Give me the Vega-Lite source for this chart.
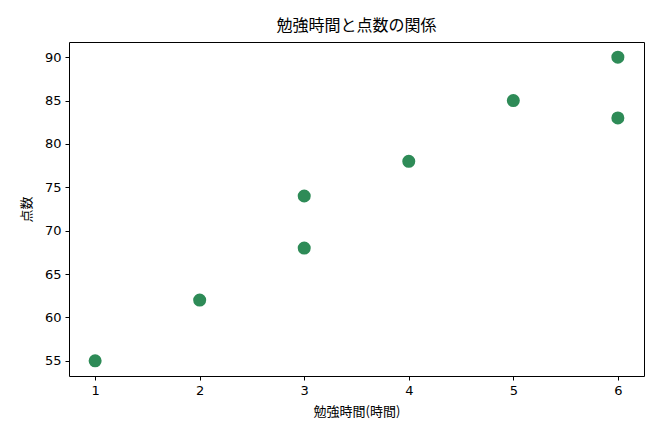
{
  "$schema": "https://vega.github.io/schema/vega-lite/v6.json",
  "width": 575,
  "height": 334,
  "autosize": {"type": "none"},
  "padding": {"left": 69, "top": 42, "right": 16, "bottom": 64},
  "background": "white",
  "title": {
    "text": "勉強時間と点数の関係",
    "font": "DejaVu Sans, Noto Sans CJK JP",
    "fontSize": 16,
    "fontWeight": "normal",
    "color": "black",
    "anchor": "middle",
    "offset": 8
  },
  "config": {
    "view": {"stroke": "black", "strokeWidth": 1},
    "axis": {
      "domain": false,
      "grid": false,
      "tickColor": "black",
      "tickSize": 4,
      "labelFont": "DejaVu Sans",
      "labelFontSize": 13,
      "labelColor": "black",
      "titleFont": "Noto Sans CJK JP",
      "titleFontSize": 13,
      "titleFontWeight": "normal",
      "titleColor": "black"
    }
  },
  "data": {
    "values": [
      {"hours": 1, "score": 55},
      {"hours": 2, "score": 62},
      {"hours": 3, "score": 68},
      {"hours": 3, "score": 74},
      {"hours": 4, "score": 78},
      {"hours": 5, "score": 85},
      {"hours": 6, "score": 83},
      {"hours": 6, "score": 90}
    ]
  },
  "mark": {"type": "circle", "size": 170, "color": "#2E8B57", "opacity": 1},
  "encoding": {
    "x": {
      "field": "hours",
      "type": "quantitative",
      "title": "勉強時間(時間)",
      "scale": {"domain": [0.75, 6.25], "nice": false, "zero": false},
      "axis": {"values": [1, 2, 3, 4, 5, 6], "labelPadding": 4, "titlePadding": 8}
    },
    "y": {
      "field": "score",
      "type": "quantitative",
      "title": "点数",
      "scale": {"domain": [53.25, 91.75], "nice": false, "zero": false},
      "axis": {"values": [55, 60, 65, 70, 75, 80, 85, 90], "labelPadding": 4, "titlePadding": 11}
    }
  }
}
